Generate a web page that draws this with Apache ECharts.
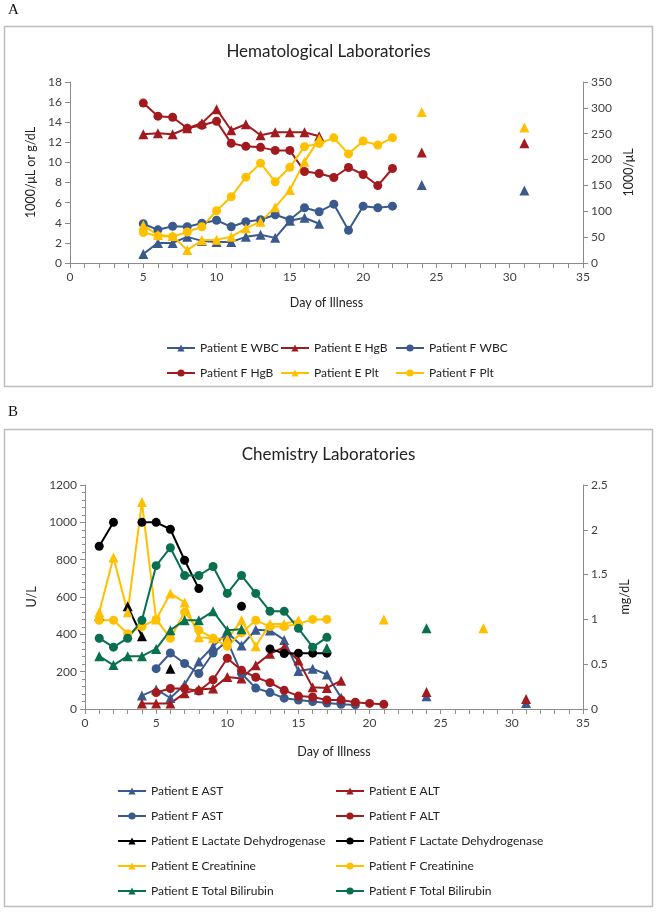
<!DOCTYPE html>
<html><head><meta charset="utf-8">
<script src="https://cdn.jsdelivr.net/npm/echarts@6/dist/echarts.min.js"></script>
<style>html,body{margin:0;padding:0;background:#fff}#c{width:657px;height:912px}</style>
</head><body><div id="c"></div>
<script>
const N = null;
// ---- Panel A: Hematological Laboratories (days 5..31)
const daysA = [5,6,7,8,9,10,11,12,13,14,15,16,17,18,19,20,21,22,23,24,25,26,27,28,29,30,31];
const eWBC = [0.9,2.0,2.0,2.6,2.2,2.1,2.1,2.6,2.8,2.5,4.2,4.5,3.9, N,N,N,N,N,N, 7.75, N,N,N,N,N,N, 7.2];
const eHgB = [12.8,12.9,12.8,13.4,13.9,15.3,13.2,13.8,12.7,13.0,13.0,13.0,12.6, N,N,N,N,N,N, 11.0, N,N,N,N,N,N, 11.9];
const fWBC = [3.9,3.3,3.65,3.6,3.95,4.25,3.6,4.1,4.3,4.8,4.3,5.5,5.1,5.85,3.25,5.65,5.5,5.65, N,N,N,N,N,N,N,N,N];
const fHgB = [15.9,14.6,14.5,13.4,13.7,14.1,11.9,11.6,11.5,11.2,11.2,9.1,8.9,8.5,9.5,8.8,7.7,9.4, N,N,N,N,N,N,N,N,N];
const ePlt = [73,54,52,25,44,45,51,67,80,108,141,196,240, N,N,N,N,N,N, 292, N,N,N,N,N,N, 262];
const fPlt = [59,52,51,60,70,101,128,166,193,157,185,225,231,242,211,236,228,242, N,N,N,N,N,N,N,N,N];

// ---- Panel B: Chemistry Laboratories (days 1..31)
const daysB = [1,2,3,4,5,6,7,8,9,10,11,12,13,14,15,16,17,18,19,20,21,22,23,24,25,26,27,28,29,30,31];
const eAST = [N,N,N,72,105,59,131,255,335,410,340,424,421,370,203,216,185,60, N,N,N,N,N, 68, N,N,N,N,N,N, 32];
const eALT = [N,N,N,30,30,30,85,105,110,172,163,235,296,331,260,116,113,152, N,N,N,N,N, 91, N,N,N,N,N,N, 53];
const fAST = [N,N,N,N,216,300,244,190,300,365,190,112,88,58,48,40,32,25,22, N,N,N,N,N,N,N,N,N,N,N,N];
const fALT = [N,N,N,N,88,110,110,96,157,272,207,170,141,100,69,64,48,48,36,30,25, N,N,N,N,N,N,N,N,N,N];
const eLDH = [500,N,550,390,N,215, N,N,N,N,N,N,N,N,N,N,N,N,N,N,N,N,N,N,N,N,N,N,N,N,N];
const fLDH = [872,1000,N,1000,1000,963,797,645,N,N,550,N,322,297,299,299,299, N,N,N,N,N,N,N,N,N,N,N,N,N,N];
const eCreat = [1.08,1.69,1.08,2.31,1.0,1.29,1.19,0.80,0.79,0.78,0.99,0.70,0.95,0.95,0.99, N,N,N,N,N, 1.0, N,N,N,N,N,N, 0.9, N,N,N];
const fCreat = [0.99,0.99,0.84,0.92,1.0,0.79,1.08,0.88,0.79,0.70,0.85,0.99,0.92,0.92,0.95,1.0,1.0, N,N,N,N,N,N,N,N,N,N,N,N,N,N];
const eBili = [0.59,0.49,0.59,0.59,0.67,0.88,0.99,0.99,1.09,0.88,0.89, N,N,N,N,N, 0.68, N,N,N,N,N,N, 0.9, N,N,N,N,N,N,N];
const fBili = [0.79,0.69,0.79,0.99,1.60,1.80,1.49,1.49,1.59,1.29,1.49,1.29,1.09,1.09,0.90,0.69,0.80, N,N,N,N,N,N,N,N,N,N,N,N,N,N];

const BLUE = '#3A5A8E', RED = '#A21A1E', YEL = '#FFC000', BLK = '#000000', GRN = '#08704F';
const FONT = 'Lato';
const pairs = (days, vals) => days.map((d, i) => [d, vals[i] == null ? '-' : vals[i]]);
function ser(name, days, vals, color, sym, xi, yi) {
  return {
    name, type: 'line', xAxisIndex: xi, yAxisIndex: yi, data: pairs(days, vals),
    symbol: sym, symbolSize: sym === 'circle' ? 9 : 10, connectNulls: false,
    lineStyle: { color, width: 2 }, itemStyle: { color }, animation: false
  };
}
const axisLine = { lineStyle: { color: '#8c8c8c', width: 1 } };
const lbl = { color: '#404040', fontSize: 12, fontFamily: FONT };
const nameStyle = { color: '#222', fontSize: 12.5, fontFamily: FONT };
function xAx(gi, nameGap) {
  return {
    type: 'value', gridIndex: gi, min: 0, max: 35, interval: 5,
    axisLine, axisTick: { show: true, length: 5, lineStyle: { color: '#8c8c8c' } },
    minorTick: { show: true, splitNumber: 5, length: 5, lineStyle: { color: '#8c8c8c' } },
    splitLine: { show: false }, axisLabel: lbl,
    name: 'Day of Illness', nameLocation: 'middle', nameGap, nameTextStyle: nameStyle
  };
}
function yAx(gi, pos, max, interval, name, nameGap, minor) {
  return {
    type: 'value', gridIndex: gi, position: pos, min: 0, max, interval,
    axisLine: { show: true, lineStyle: { color: '#8c8c8c' } },
    axisTick: { show: true, length: 5, lineStyle: { color: '#8c8c8c' } },
    minorTick: { show: minor, splitNumber: 5, length: 3, lineStyle: { color: '#8c8c8c' } },
    splitLine: { show: false },
    axisLabel: Object.assign({ formatter: v => String(v) }, lbl),
    name, nameLocation: 'middle', nameGap, nameRotate: 90, nameTextStyle: nameStyle
  };
}
function leg(names, left, top) {
  return {
    data: names, left, top, orient: 'vertical', itemWidth: 28, itemHeight: 9, itemGap: 11,
    textStyle: { color: '#222', fontSize: 12, fontFamily: FONT, lineHeight: 14 }, selectedMode: false
  };
}
const option = {
  backgroundColor: '#fff',
  animation: false,
  title: [
    { text: 'Hematological Laboratories', left: 'center', top: 38, textStyle: { fontFamily: FONT, fontSize: 17, fontWeight: 'normal', color: '#222' } },
    { text: 'Chemistry Laboratories', left: 'center', top: 441, textStyle: { fontFamily: FONT, fontSize: 17, fontWeight: 'normal', color: '#222' } }
  ],
  graphic: [
    { type: 'rect', shape: { x: 4.5, y: 26.5, width: 648, height: 360 }, style: { fill: 'none', stroke: '#bdbdbd', lineWidth: 1.5 }, silent: true },
    { type: 'rect', shape: { x: 4.5, y: 429.5, width: 648, height: 477 }, style: { fill: 'none', stroke: '#bdbdbd', lineWidth: 1.5 }, silent: true },
    { type: 'text', left: 8, top: 3, style: { text: 'A', font: '15px "Liberation Serif"', fill: '#111' } },
    { type: 'text', left: 8, top: 405, style: { text: 'B', font: '15px "Liberation Serif"', fill: '#111' } }
  ],
  grid: [
    { left: 70, right: 74, top: 82, height: 181 },
    { left: 85, right: 74, top: 485, height: 224 }
  ],
  xAxis: [xAx(0, 33), xAx(1, 36)],
  yAxis: [
    yAx(0, 'left', 18, 2, '1000/μL or g/dL', 33, false),
    yAx(0, 'right', 350, 50, '1000/μL', 37, false),
    yAx(1, 'left', 1200, 200, 'U/L', 44, true),
    yAx(1, 'right', 2.5, 0.5, 'mg/dL', 30, false)
  ],
  legend: [
    leg(['Patient E WBC', 'Patient F HgB'], 161, 336),
    leg(['Patient E HgB', 'Patient E Plt'], 275, 336),
    leg(['Patient F WBC', 'Patient F Plt'], 390, 336),
    leg(['Patient E AST', 'Patient F AST', 'Patient E Lactate Dehydrogenase', 'Patient E Creatinine', 'Patient E Total Bilirubin'], 112, 779),
    leg(['Patient E ALT', 'Patient F ALT', 'Patient F Lactate Dehydrogenase', 'Patient F Creatinine', 'Patient F Total Bilirubin'], 330, 779)
  ],
  series: [
    ser('Patient E WBC', daysA, eWBC, BLUE, 'triangle', 0, 0),
    ser('Patient E HgB', daysA, eHgB, RED, 'triangle', 0, 0),
    ser('Patient F WBC', daysA, fWBC, BLUE, 'circle', 0, 0),
    ser('Patient F HgB', daysA, fHgB, RED, 'circle', 0, 0),
    ser('Patient E Plt', daysA, ePlt, YEL, 'triangle', 0, 1),
    ser('Patient F Plt', daysA, fPlt, YEL, 'circle', 0, 1),
    ser('Patient E AST', daysB, eAST, BLUE, 'triangle', 1, 2),
    ser('Patient E ALT', daysB, eALT, RED, 'triangle', 1, 2),
    ser('Patient F AST', daysB, fAST, BLUE, 'circle', 1, 2),
    ser('Patient F ALT', daysB, fALT, RED, 'circle', 1, 2),
    ser('Patient E Lactate Dehydrogenase', daysB, eLDH, BLK, 'triangle', 1, 2),
    ser('Patient F Lactate Dehydrogenase', daysB, fLDH, BLK, 'circle', 1, 2),
    ser('Patient E Creatinine', daysB, eCreat, YEL, 'triangle', 1, 3),
    ser('Patient F Creatinine', daysB, fCreat, YEL, 'circle', 1, 3),
    ser('Patient E Total Bilirubin', daysB, eBili, GRN, 'triangle', 1, 3),
    ser('Patient F Total Bilirubin', daysB, fBili, GRN, 'circle', 1, 3)
  ]
};
const chart = echarts.init(document.getElementById('c'), null, { renderer: 'canvas' });
chart.setOption(option);
</script>
</body></html>
